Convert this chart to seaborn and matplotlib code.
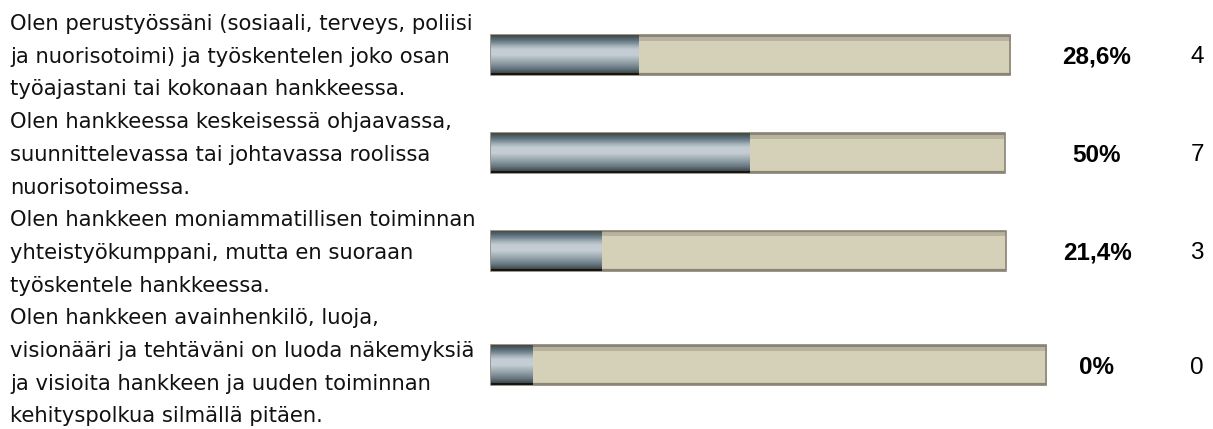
import numpy as np
import pandas as pd
import seaborn as sns
import matplotlib.pyplot as plt
from matplotlib.colors import LinearSegmentedColormap
from matplotlib.transforms import blended_transform_factory

# Data
labels = [
    "Olen perustyössäni (sosiaali, terveys, poliisi\nja nuorisotoimi) ja työskentelen joko osan\ntyöajastani tai kokonaan hankkeessa.",
    "Olen hankkeessa keskeisessä ohjaavassa,\nsuunnittelevassa tai johtavassa roolissa\nnuorisotoimessa.",
    "Olen hankkeen moniammatillisen toiminnan\nyhteistyökumppani, mutta en suoraan\ntyöskentele hankkeessa.",
    "Olen hankkeen avainhenkilö, luoja,\nvisionääri ja tehtäväni on luoda näkemyksiä\nja visioita hankkeen ja uuden toiminnan\nkehityspolkua silmällä pitäen.",
]
percent = [28.6, 50, 21.4, 0]
percent_labels = ["28,6%", "50%", "21,4%", "0%"]
counts = [4, 7, 3, 0]

# Styling / layout
track_span = [100.4, 99.4, 99.6, 107.4]   # the background tracks are not all equally long
min_stub = 8                               # a 0% answer still shows a short stub
W, H = 1213, 429
px_left, px_per_pct = 491, 5.17            # 0% .. 100% of the track in pixels
line_top, line_step = 22, 32.7             # first text line centre and line spacing (px)
bar_px = 40

fill_cmap = LinearSegmentedColormap.from_list("fill", [
    (0.00, "#45473b"), (0.06, "#4b5960"), (0.12, "#5c6e78"), (0.20, "#7d8e98"),
    (0.28, "#a6b3ba"), (0.36, "#c2ccd2"), (0.50, "#c4ced4"), (0.60, "#aab6bc"),
    (0.72, "#8a98a0"), (0.84, "#66767f"), (0.91, "#4c5b62"), (0.95, "#45473c"),
    (0.96, "#151515"), (1.00, "#151515")])
track_cmap = LinearSegmentedColormap.from_list("track", [
    (0.00, "#8a8474"), (0.05, "#8a8474"), (0.06, "#b7b39e"), (0.14, "#b7b39e"),
    (0.15, "#d5d0b8"), (0.94, "#d5d0b8"), (0.95, "#8a8474"), (1.00, "#8a8474")])

# Row positions follow the number of text lines in each label
n_lines = [len(l.split("\n")) for l in labels]
starts = np.concatenate([[0], np.cumsum(n_lines)[:-1]])
centers = starts + (np.array(n_lines) - 1) / 2

df = pd.DataFrame({
    "row": centers,
    "track": track_span,
    "fill": np.maximum(percent, min_stub),
})

sns.set_style("white")
fig = plt.figure(figsize=(W / 100, H / 100), dpi=100)
ax = fig.add_axes([0, 0, 1, 1])

# bar thickness in line units, relative to the smallest row spacing
native_unit = np.min(np.diff(centers))
bar_width = (bar_px / line_step) / native_unit

sns.barplot(data=df, x="track", y="row", orient="y", native_scale=True,
            width=bar_width, color="#d5d0b8", saturation=1, errorbar=None,
            edgecolor="#8a8474", linewidth=1.2, ax=ax)
sns.barplot(data=df, x="fill", y="row", orient="y", native_scale=True,
            width=bar_width, color="#8797a0", saturation=1, errorbar=None,
            linewidth=0, ax=ax)

xlim = (-px_left / px_per_pct, (W - px_left) / px_per_pct)
ylim = ((H - line_top) / line_step, -line_top / line_step)

# vertical gradients clipped to each bar
grad = np.repeat(np.linspace(0, 1, 400).reshape(-1, 1), 2, axis=1)
patches = list(ax.patches)
for i, p in enumerate(patches):
    is_track = i < len(labels)
    cmap = track_cmap if is_track else fill_cmap
    x0, y0, w, h = p.get_x(), p.get_y(), p.get_width(), p.get_height()
    z = p.get_zorder() + (0.0 if is_track else 1.0)
    im = ax.imshow(grad, cmap=cmap, aspect="auto", interpolation="nearest",
                   extent=[x0, x0 + w, y0 + h, y0], zorder=z + 0.05)
    im.set_clip_path(p)
    p.set_facecolor("none")
    p.set_zorder(z + 0.1)

ax.set_xlim(*xlim)
ax.set_ylim(*ylim)
ax.axis("off")

# text
tr = blended_transform_factory(fig.transFigure, ax.transData)
for s, lab in zip(starts, labels):
    for j, line in enumerate(lab.split("\n")):
        ax.text(10 / W, s + j, line, transform=tr, ha="left", va="center_baseline",
                fontsize=15.2, family="DejaVu Sans", color="#111111")

for c, pl, n in zip(centers, percent_labels, counts):
    ax.text(1097 / W, c, pl, transform=tr, ha="center", va="center_baseline",
            fontsize=17.5, fontweight="bold", family="Liberation Sans", color="#000000")
    ax.text(1197 / W, c, str(n), transform=tr, ha="center", va="center_baseline",
            fontsize=17.5, family="Liberation Sans", color="#000000")

fig.savefig("out.png", dpi=100)
